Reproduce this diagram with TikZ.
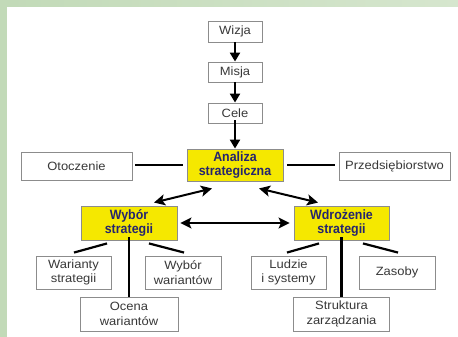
\documentclass[tikz,border=0pt]{standalone}
\usepackage{fontspec}
\setmainfont{Liberation Sans}
\newfontfamily\regfont[FakeStretch=1.08]{Liberation Sans}
\newfontfamily\keyfont[FakeStretch=0.92]{Liberation Sans Bold}
\usetikzlibrary{arrows.meta}
\definecolor{bggreen}{HTML}{C2DAB8}
\definecolor{bggreenlight}{HTML}{D6E6CE}
\definecolor{boxgray}{HTML}{8C8C8C}
\definecolor{txtgray}{HTML}{383838}
\definecolor{navy}{HTML}{25256E}
\definecolor{yel}{HTML}{F5E800}
\begin{document}
\begin{tikzpicture}[x=1pt,y=-1pt,
  plainbox/.style={draw=boxgray,line width=0.9pt,fill=white,text=txtgray,
    font=\regfont\fontsize{12}{14.5}\selectfont,align=center,inner sep=0pt},
  keybox/.style={draw=boxgray,line width=0.9pt,fill=yel,text=navy,
    font=\keyfont\fontsize{13.5}{14.5}\selectfont,align=center,inner sep=0pt},
  arr/.style={line width=2.6pt,-{Triangle[width=10pt,length=9pt]}},
  darr/.style={line width=2pt,{Stealth[width=11pt,length=11pt,inset=2.5pt]}-{Stealth[width=11pt,length=11pt,inset=2.5pt]}},
  link/.style={line width=2.2pt}]
% background
\useasboundingbox (0,0) rectangle (458,337);
\fill[bggreen] (0,0) rectangle (458,337);
\shade[left color=bggreen,right color=bggreenlight] (7,0) rectangle (458,7);
\fill[white] (7,7) rectangle (458,337);
% boxes
\node[plainbox,minimum width=54pt,minimum height=21pt] (wizja) at (235,31.5) {Wizja};
\node[plainbox,minimum width=54pt,minimum height=20pt] (misja) at (235,72) {Misja};
\node[plainbox,minimum width=54pt,minimum height=20pt] (cele) at (235,113) {Cele};
\node[keybox,minimum width=96pt,minimum height=32pt] (analiza) at (235,165) {Analiza\\strategiczna};
\node[plainbox,minimum width=111pt,minimum height=28pt] (otoczenie) at (76.5,166) {Otoczenie};
\node[plainbox,minimum width=111pt,minimum height=28pt] (przeds) at (394.5,166) {Przedsiębiorstwo};
\node[keybox,minimum width=96pt,minimum height=34pt] (wybor) at (129,223) {Wybór\\strategii};
\node[keybox,minimum width=95pt,minimum height=34pt] (wdrozenie) at (341.5,223) {Wdrożenie\\strategii};
\node[plainbox,minimum width=75pt,minimum height=33pt] (warianty) at (73.5,272.5) {Warianty\\strategii};
\node[plainbox,minimum width=76pt,minimum height=33pt] (wybwar) at (183,272.5) {Wybór\\wariantów};
\node[plainbox,minimum width=98pt,minimum height=34pt] (ocena) at (129,314) {Ocena\\wariantów};
\node[plainbox,minimum width=75pt,minimum height=33pt] (ludzie) at (288.5,272.5) {Ludzie\\i systemy};
\node[plainbox,minimum width=76pt,minimum height=33pt] (zasoby) at (397,272.5) {Zasoby};
\node[plainbox,minimum width=96pt,minimum height=34pt] (struktura) at (341.5,314) {Struktura\\zarządzania};
% connectors
\draw[arr] (wizja) -- (misja);
\draw[arr] (misja) -- (cele);
\draw[arr] ([yshift=3]cele.south) -- (analiza.north);
\draw[link,shorten <=3pt,shorten >=4pt] (otoczenie.east |- analiza.west) -- (analiza.west);
\draw[link,shorten <=4pt,shorten >=4pt] (analiza.east) -- (przeds.west |- analiza.east);
\draw[darr] ([shift={(-23,7)}]analiza.south) -- ([shift={(25,-3)}]wybor.north);
\draw[darr] ([shift={(24,7)}]analiza.south) -- ([shift={(-23.5,-3)}]wdrozenie.north);
\draw[darr,shorten <=3pt,shorten >=4pt] (wybor.east) -- (wdrozenie.west);
\draw[link] ([shift={(-22,3)}]wybor.south) -- ([shift={(0.5,-3)}]warianty.north);
\draw[link] ([yshift=3]wybor.south) -- (ocena.north);
\draw[link] ([shift={(20,3)}]wybor.south) -- ([shift={(1,-3)}]wybwar.north);
\draw[link] ([shift={(-22.5,3)}]wdrozenie.south) -- ([shift={(-1.5,-3)}]ludzie.north);
\draw[link] ([yshift=3]wdrozenie.south) -- (struktura.north);
\draw[link] ([shift={(21.5,3)}]wdrozenie.south) -- ([shift={(1,-3)}]zasoby.north);
\end{tikzpicture}
\end{document}
